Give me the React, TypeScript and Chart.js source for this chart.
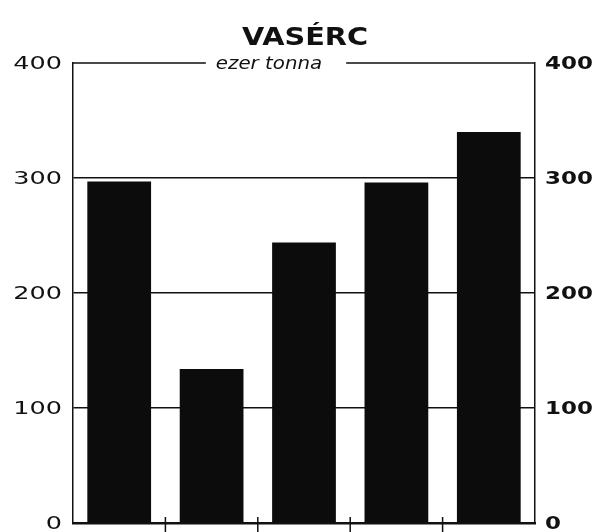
import React, { useEffect, useRef } from "react";
import { Chart, registerables } from "chart.js";

Chart.register(...registerables);

const categories = ["1", "2", "3", "4", "5"];
const values = [297, 134, 244, 296, 340];
const yTicks = [0, 100, 200, 300, 400];
const titleText = "VASÉRC";
const unitText = "ezer tonna";

const overlay = {
  id: "overlay",
  afterDraw(chart: any) {
    const ctx = chart.ctx as CanvasRenderingContext2D;
    const ca = chart.chartArea;
    const y = chart.scales.y;
    const x = chart.scales.x;
    ctx.save();
    ctx.fillStyle = "#111";
    ctx.strokeStyle = "#111";

    // title
    ctx.save();
    ctx.font = "bold 25px 'DejaVu Sans'";
    ctx.textAlign = "center";
    ctx.textBaseline = "alphabetic";
    ctx.translate(305, 45);
    ctx.scale(1.15, 1);
    ctx.fillText(titleText, 0, 0);
    ctx.restore();

    // unit text + top line with gap
    const top = y.getPixelForValue(400);
    ctx.save();
    ctx.font = "oblique 18px 'DejaVu Sans'";
    ctx.textAlign = "center";
    ctx.textBaseline = "alphabetic";
    const sx = 1.1;
    const w = ctx.measureText(unitText).width * sx;
    const cx = 269;
    ctx.translate(cx, top + 6);
    ctx.scale(sx, 1);
    ctx.fillText(unitText, 0, 0);
    ctx.restore();
    ctx.lineWidth = 1.3;
    ctx.beginPath();
    ctx.moveTo(ca.left, top);
    ctx.lineTo(cx - w / 2 - 10, top);
    ctx.moveTo(cx + w / 2 + 24, top);
    ctx.lineTo(ca.right, top);
    ctx.stroke();

    // y labels
    yTicks.forEach((v) => {
      const py = y.getPixelForValue(v) + 2;
      ctx.save();
      ctx.font = "17px 'DejaVu Sans'";
      ctx.textAlign = "right";
      ctx.textBaseline = "middle";
      ctx.translate(ca.left - 11, py);
      ctx.scale(1.5, 1);
      ctx.fillText(String(v), 0, 0);
      ctx.restore();
      ctx.save();
      ctx.font = "bold 17px 'DejaVu Sans'";
      ctx.textAlign = "left";
      ctx.textBaseline = "middle";
      ctx.translate(ca.right + 10, py);
      ctx.scale(1.35, 1);
      ctx.fillText(String(v), 0, 0);
      ctx.restore();
    });

    // x tick marks at category boundaries
    ctx.lineWidth = 1.5;
    ctx.beginPath();
    for (let i = 0; i < categories.length - 1; i++) {
      const bx = (x.getPixelForValue(i) + x.getPixelForValue(i + 1)) / 2;
      ctx.moveTo(bx, ca.bottom - 6);
      ctx.lineTo(bx, ca.bottom + 10);
    }
    ctx.stroke();
    ctx.restore();
  },
};

export default function App() {
  const ref = useRef<HTMLCanvasElement>(null);
  useEffect(() => {
    if (!ref.current) return;
    const chart = new Chart(ref.current, {
      type: "bar",
      data: {
        labels: categories,
        datasets: [
          {
            data: values,
            backgroundColor: "#0c0c0c",
            borderWidth: 0,
            barPercentage: 0.69,
            categoryPercentage: 1,
            yAxisID: "y",
          },
        ],
      },
      options: {
        responsive: false,
        animation: false,
        layout: { padding: { top: 63, left: 0, right: 0, bottom: 0 } },
        plugins: { legend: { display: false }, tooltip: { enabled: false }, title: { display: false } },
        scales: {
          x: {
            ticks: { display: false },
            grid: { display: false },
            border: { display: true, color: "#111", width: 2.5 },
            afterFit: (s: any) => {
              s.height = 9;
            },
          },
          y: {
            position: "left",
            min: 0,
            max: 400,
            ticks: { display: false, stepSize: 100 },
            grid: {
              drawTicks: false,
              color: (c: any) =>
                c.tick && (c.tick.value === 0 || c.tick.value === 400) ? "rgba(0,0,0,0)" : "#111",
              lineWidth: 1.4,
            },
            border: { display: true, color: "#111", width: 1.5 },
            afterFit: (s: any) => {
              s.width = 73;
            },
          },
          y2: {
            position: "right",
            min: 0,
            max: 400,
            ticks: { display: false, stepSize: 100 },
            grid: { display: false },
            border: { display: true, color: "#111", width: 1.5 },
            afterFit: (s: any) => {
              s.width = 68;
            },
          },
        },
      },
      plugins: [overlay],
    });
    return () => chart.destroy();
  }, []);
  return (
    <div style={{ position: "fixed", left: 0, top: 0, width: 603, height: 532, background: "#fff" }}>
      <canvas ref={ref} width={603} height={532} style={{ display: "block" }} />
    </div>
  );
}
